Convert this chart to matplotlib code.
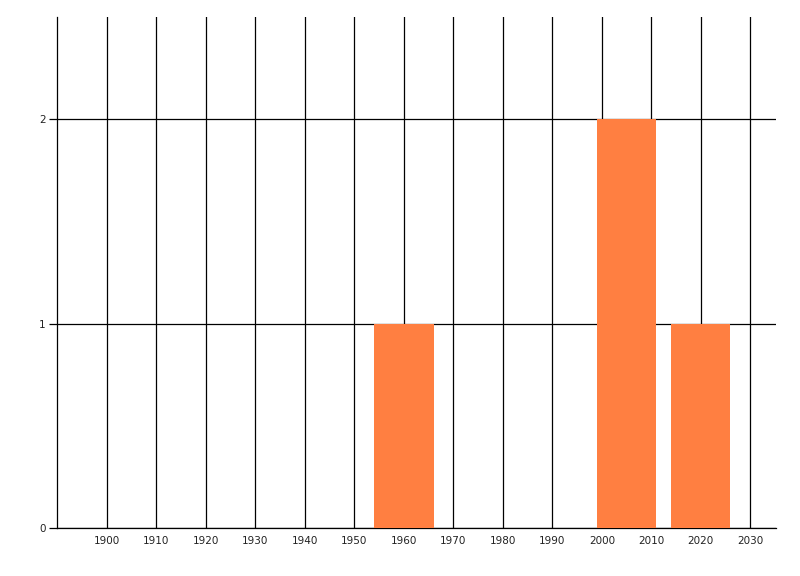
import matplotlib
matplotlib.use("Agg")
import matplotlib.pyplot as plt

# data
years = [1960, 2005, 2020]
counts = [1, 2, 1]
bar_width = 12
x_ticks = list(range(1900, 2031, 10))
y_ticks = [0, 1, 2]

_BAR_COLOUR = "#FF7F41"
_LINE_KW = dict(color="black", linewidth=0.9)

fig = plt.figure(figsize=(8, 5.76), dpi=100)
ax = fig.add_axes([0.07125, 0.0833, 0.89875, 0.8872])

ax.bar(years, counts, width=bar_width, color=_BAR_COLOUR, zorder=3)

ax.set_xlim(1889.9, 2035.2)
ax.set_ylim(0, 2.5)
ax.set_xticks(x_ticks)
ax.set_yticks(y_ticks)

# gridlines: vertical at each decade, horizontal at each y tick
ax.grid(True, **_LINE_KW)
ax.set_axisbelow(True)

for side in ("top", "right"):
    ax.spines[side].set_visible(False)
for side in ("left", "bottom"):
    ax.spines[side].set_color("black")
    ax.spines[side].set_linewidth(0.9)

ax.tick_params(axis="x", length=0, pad=6, labelsize=7.5, colors="#222222")
ax.tick_params(axis="y", length=6, width=0.9, pad=2, labelsize=7.5,
               colors="#222222")
ax.tick_params(axis="y", color="black")

fig.savefig("out.png", dpi=100)
